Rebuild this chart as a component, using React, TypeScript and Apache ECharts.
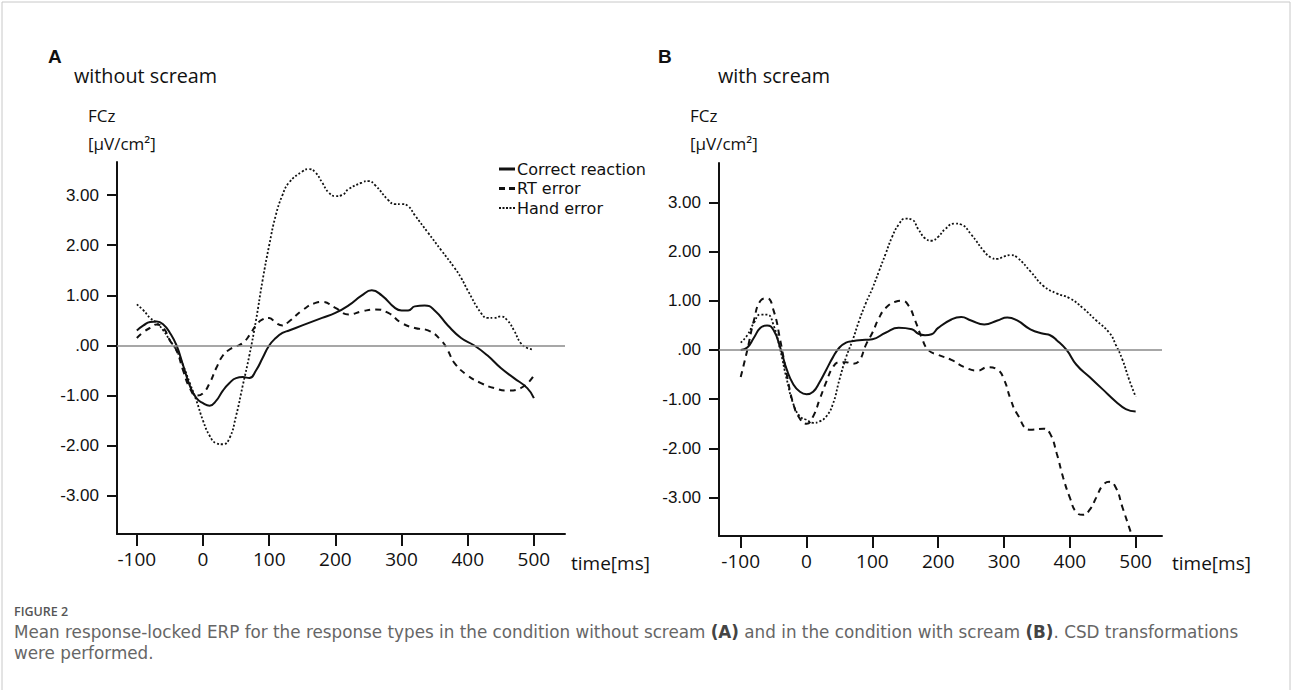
import React, { useEffect, useRef } from 'react';
import * as echarts from 'echarts';

const xTicks = [-100, 0, 100, 200, 300, 400, 500];
const yTicks = [-3, -2, -1, 0, 1, 2, 3];
const seriesNames = ['Correct reaction', 'RT error', 'Hand error'];

// Panel A (without scream): [time ms, amplitude]
const aCorrect = [[-100,0.3],[-90,0.4],[-80,0.47],[-70,0.48],[-60,0.42],[-50,0.25],[-40,0.0],[-30,-0.4],[-20,-0.8],[-10,-1.05],[0,-1.15],[10,-1.2],[20,-1.1],[30,-0.9],[40,-0.75],[50,-0.65],[60,-0.63],[70,-0.65],[80,-0.5],[90,-0.25],[100,0.0],[110,0.15],[120,0.25],[130,0.3],[150,0.4],[180,0.55],[200,0.65],[220,0.8],[240,1.0],[255,1.1],[270,1.0],[290,0.75],[300,0.7],[310,0.7],[320,0.78],[335,0.8],[350,0.7],[370,0.4],[390,0.15],[410,0.0],[430,-0.2],[450,-0.45],[470,-0.65],[490,-0.85],[500,-1.05]];
const aRT = [[-100,0.15],[-90,0.27],[-80,0.35],[-70,0.42],[-60,0.35],[-50,0.1],[-40,-0.1],[-30,-0.5],[-20,-0.85],[-10,-1.0],[0,-0.95],[10,-0.75],[20,-0.45],[30,-0.2],[40,-0.08],[50,-0.02],[60,0.05],[70,0.2],[80,0.4],[90,0.52],[100,0.55],[110,0.45],[120,0.4],[130,0.48],[150,0.7],[170,0.85],[180,0.87],[200,0.75],[220,0.62],[240,0.68],[260,0.72],[280,0.65],[300,0.45],[320,0.35],[340,0.3],[360,0.1],[370,-0.1],[380,-0.35],[400,-0.6],[420,-0.75],[440,-0.85],[460,-0.9],[480,-0.85],[500,-0.6]];
const aHand = [[-100,0.82],[-90,0.7],[-80,0.55],[-70,0.45],[-60,0.3],[-50,0.1],[-40,-0.1],[-30,-0.4],[-20,-0.75],[-10,-1.1],[0,-1.5],[10,-1.8],[20,-1.95],[30,-1.97],[40,-1.85],[50,-1.4],[60,-0.8],[70,-0.2],[80,0.5],[90,1.3],[100,2.0],[110,2.6],[120,3.0],[130,3.25],[150,3.47],[160,3.52],[170,3.45],[180,3.25],[190,3.05],[200,2.98],[210,3.0],[220,3.12],[240,3.25],[250,3.28],[260,3.2],[280,2.9],[290,2.82],[300,2.82],[310,2.78],[320,2.6],[340,2.25],[360,1.9],[380,1.55],[390,1.35],[400,1.1],[420,0.65],[430,0.55],[440,0.55],[450,0.58],[460,0.5],[470,0.3],[480,0.05],[490,-0.05],[500,-0.08]];

// Panel B (with scream)
const bCorrect = [[-100,0.0],[-90,0.05],[-80,0.25],[-70,0.45],[-60,0.5],[-50,0.4],[-40,0.05],[-30,-0.4],[-20,-0.7],[-10,-0.85],[0,-0.9],[10,-0.85],[20,-0.65],[30,-0.4],[40,-0.15],[50,0.05],[60,0.15],[70,0.18],[80,0.2],[100,0.22],[120,0.35],[140,0.45],[160,0.42],[170,0.33],[180,0.3],[190,0.32],[200,0.45],[220,0.62],[235,0.67],[250,0.6],[270,0.52],[290,0.6],[305,0.66],[320,0.6],[340,0.42],[360,0.33],[370,0.3],[380,0.2],[395,0.0],[410,-0.3],[430,-0.55],[450,-0.8],[470,-1.05],[485,-1.2],[500,-1.25]];
const bRT = [[-100,-0.55],[-90,0.0],[-80,0.6],[-70,1.0],[-60,1.05],[-50,0.8],[-40,0.2],[-30,-0.5],[-20,-1.1],[-10,-1.4],[0,-1.5],[10,-1.35],[20,-1.0],[30,-0.65],[40,-0.35],[50,-0.25],[60,-0.25],[70,-0.28],[80,-0.22],[90,0.1],[100,0.35],[110,0.65],[120,0.85],[135,0.98],[145,1.0],[155,0.9],[165,0.6],[175,0.25],[185,0.0],[200,-0.1],[220,-0.2],[240,-0.35],[260,-0.42],[275,-0.35],[290,-0.4],[300,-0.6],[310,-1.0],[320,-1.3],[340,-1.62],[360,-1.6],[370,-1.7],[380,-2.1],[390,-2.6],[400,-3.0],[410,-3.3],[420,-3.35],[430,-3.25],[440,-3.0],[450,-2.75],[460,-2.68],[470,-2.8],[480,-3.2],[490,-3.6],[500,-4.0]];
const bHand = [[-100,0.15],[-90,0.3],[-80,0.55],[-70,0.72],[-60,0.72],[-50,0.5],[-40,0.0],[-30,-0.6],[-20,-1.1],[-10,-1.35],[0,-1.42],[10,-1.48],[20,-1.45],[30,-1.35],[40,-1.1],[50,-0.6],[60,-0.15],[70,0.2],[80,0.6],[90,0.95],[100,1.25],[110,1.6],[120,1.95],[130,2.3],[140,2.55],[150,2.67],[160,2.65],[170,2.45],[180,2.27],[190,2.22],[200,2.3],[210,2.45],[225,2.57],[235,2.55],[250,2.35],[270,2.0],[280,1.88],[290,1.85],[300,1.9],[310,1.93],[320,1.88],[340,1.6],[360,1.3],[380,1.15],[400,1.05],[420,0.85],[440,0.6],[460,0.35],[470,0.1],[480,-0.2],[490,-0.6],[500,-0.95]];

const lineStyles = [
  { type: 'solid', width: 2 },
  { type: [6, 5], width: 2 },
  { type: [2, 2], width: 1.8 },
];
const legendIcons = [
  'path://M0,0H16V3H0Z',
  'path://M0,0H6V3H0Z M10,0H16V3H10Z',
  'path://M0,0.5H2V2.5H0Z M3.5,0.5H5.5V2.5H3.5Z M7,0.5H9V2.5H7Z M10.5,0.5H12.5V2.5H10.5Z M14,0.5H16V2.5H14Z M0,0H0.01V3H0Z',
];

function makeX(gridIndex: number, min: number, max: number) {
  return {
    type: 'value', gridIndex, min, max,
    axisLine: { show: true, onZero: false, lineStyle: { color: '#111', width: 2 } },
    axisTick: { show: true, customValues: xTicks, length: 12, lineStyle: { color: '#111', width: 2 } },
    axisLabel: { customValues: xTicks, fontSize: 19, fontFamily: 'Open Sans', color: '#111', margin: 15 },
    splitLine: { show: false },
  };
}
function makeY(gridIndex: number, min: number, max: number) {
  return {
    type: 'value', gridIndex, min, max,
    axisLine: { show: true, onZero: false, lineStyle: { color: '#111', width: 2 } },
    axisTick: { show: true, customValues: yTicks, length: 10, lineStyle: { color: '#111', width: 2 } },
    axisLabel: {
      customValues: yTicks, fontSize: 17, fontFamily: 'Liberation Sans', color: '#111', margin: 18,
      formatter: (v: number) => (v === 0 ? '.00' : v.toFixed(2)),
    },
    splitLine: { show: false },
  };
}
function makeSeries(data: number[][], idx: number, axis: number, withZero: boolean) {
  const s: any = {
    type: 'line', name: seriesNames[idx], data, xAxisIndex: axis, yAxisIndex: axis,
    smooth: 0.5, symbol: 'none', clip: true,
    lineStyle: { color: '#111', ...lineStyles[idx] },
    itemStyle: { color: '#111' },
  };
  if (withZero) {
    s.markLine = {
      silent: true, symbol: 'none', label: { show: false },
      lineStyle: { color: '#8a8a8a', width: 1.6, type: 'solid' },
      data: [{ yAxis: 0 }],
    };
  }
  return s;
}

const txt = (text: string, x: number, y: number, size: number, extra: any = {}) => ({
  type: 'text', x, y, silent: true,
  style: { text, fontSize: size, fontFamily: 'Open Sans', fill: '#111', verticalAlign: 'middle', ...extra },
});

const capFont = 'DejaVu Sans';
const capSize = 16.8;
const boldCap = { fontSize: capSize, fontFamily: capFont, fontWeight: 'bold', fill: '#444' };

export default function App() {
  const ref = useRef<HTMLDivElement>(null);
  useEffect(() => {
    document.body.style.margin = '0';
    const chart = echarts.init(ref.current as HTMLDivElement, null, { renderer: 'svg' });
    chart.setOption({
      animation: false,
      backgroundColor: '#fff',
      grid: [
        { left: 117, top: 162, width: 448, height: 372 },
        { left: 719, top: 163, width: 443, height: 373 },
      ],
      xAxis: [makeX(0, -130, 547), makeX(1, -133, 540)],
      yAxis: [makeY(0, -3.76, 3.66), makeY(1, -3.78, 3.8)],
      legend: {
        orient: 'vertical', left: 494, top: 156, itemWidth: 16, itemHeight: 3, itemGap: 3.5,
        data: seriesNames.map((name, i) => ({ name, icon: legendIcons[i] })),
        selectedMode: false,
        textStyle: { fontSize: 16, lineHeight: 16, fontFamily: 'DejaVu Sans', color: '#111', padding: [0, 0, 0, -3] },
      },
      series: [
        makeSeries(aCorrect, 0, 0, true),
        makeSeries(aRT, 1, 0, false),
        makeSeries(aHand, 2, 0, false),
        makeSeries(bCorrect, 0, 1, true),
        makeSeries(bRT, 1, 1, false),
        makeSeries(bHand, 2, 1, false),
      ],
      graphic: [
        { type: 'rect', silent: true, shape: { x: 2, y: 2, width: 1288, height: 720 }, style: { fill: 'none', stroke: '#c8c8c8', lineWidth: 1 } },
        txt('A', 48, 56, 19, { fontFamily: 'Liberation Sans', fontWeight: 'bold' }),
        txt('without scream', 74, 75, 19.8),
        txt('FCz', 88, 115, 17),
        txt('[μV/cm²]', 88, 143, 17),
        txt('time[ms]', 571, 563, 19),
        txt('B', 658, 56, 19, { fontFamily: 'Liberation Sans', fontWeight: 'bold' }),
        txt('with scream', 718, 75, 19.8),
        txt('FCz', 690, 115, 17),
        txt('[μV/cm²]', 690, 143, 17),
        txt('time[ms]', 1172, 563, 19),
        txt('FIGURE 2', 14, 611, 12.5, { fill: '#555', fontFamily: 'Open Sans', fontWeight: 600 }),
        txt('Mean response-locked ERP for the response types in the condition without scream {b|(A)} and in the condition with scream {b|(B)}. CSD transformations', 14, 632, capSize, { fill: '#666', fontFamily: capFont, rich: { b: boldCap } }),
        txt('were performed.', 14, 653, capSize, { fill: '#666', fontFamily: capFont }),
      ],
    });
    return () => chart.dispose();
  }, []);
  return <div ref={ref} style={{ width: 1293, height: 690 }} />;
}
